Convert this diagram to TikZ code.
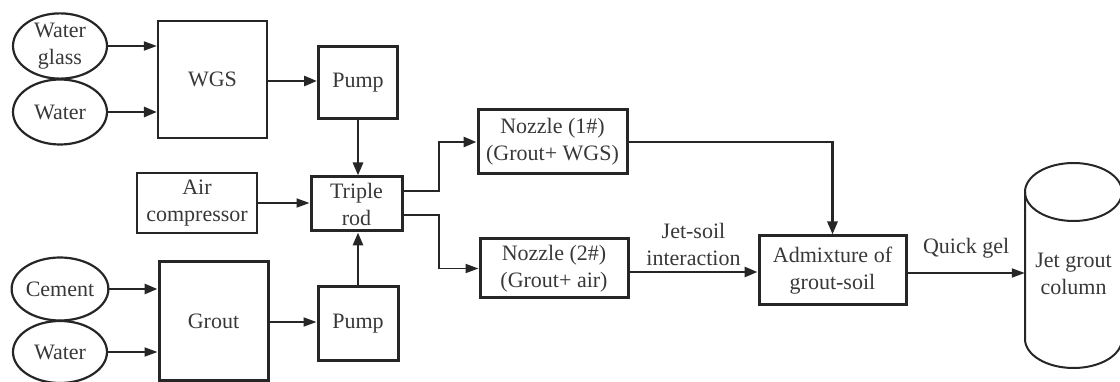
\documentclass[tikz,border=0pt]{standalone}
\usepackage{fontspec}
\setmainfont{Liberation Serif}
\usetikzlibrary{arrows.meta,shapes.geometric}
\begin{document}
\begin{tikzpicture}[x=1pt,y=-1pt,
  every node/.style={font=\fontsize{22}{27}\selectfont, text=black!78, align=center, inner sep=0pt},
  bx/.style={draw=black!85, line width=2.2pt, rectangle},
  bxt/.style={draw=black!85, line width=3pt, rectangle},
  ell/.style={draw=black!85, line width=2.2pt, ellipse},
  tharr/.style={draw=black!85, line width=1.8pt, -{Triangle[length=13pt,width=9pt]}},
  tkarr/.style={draw=black!85, line width=2.8pt, -{Triangle[length=13pt,width=10pt]}}]
\useasboundingbox (0,0) rectangle (1120,382);
% ellipses
\node[ell, minimum width=94, minimum height=63] (wg) at (60,46) {Water\\glass};
\node[ell, minimum width=94, minimum height=65] (w1) at (60,112) {Water};
\node[ell, minimum width=94, minimum height=63] (cem) at (60,289) {Cement};
\node[ell, minimum width=94, minimum height=62] (w2) at (60,352) {Water};
% boxes
\node[bx, minimum width=109, minimum height=117] (wgs) at (212.5,79.5) {WGS};
\node[bxt, minimum width=79, minimum height=72] (p1) at (358,83) {Pump};
\node[bxt, minimum width=91, minimum height=54] (tr) at (356.5,204) {Triple\\rod};
\node[bx, minimum width=120, minimum height=60] (air) at (197,203) {Air\\compressor};
\node[bxt, minimum width=109, minimum height=118] (gr) at (213.5,321) {Grout};
\node[bxt, minimum width=80, minimum height=73] (p2) at (358,323.5) {Pump};
\node[bxt, minimum width=149, minimum height=64] (n1) at (552.5,142) {Nozzle (1\#)\\(Grout+ WGS)};
\node[bxt, minimum width=148, minimum height=59] (n2) at (554,268.5) {Nozzle (2\#)\\(Grout+ air)};
\node[bxt, minimum width=147, minimum height=69] (ad) at (832.5,270.5) {Admixture of\\grout-soil};
% cylinder
\draw[black!85, line width=2pt] (1025,192) -- (1025,339) arc[start angle=180, end angle=0, x radius=48.5, y radius=29] -- (1122,192);
\draw[black!85, line width=2pt] (1073.5,192) ellipse[x radius=48.5, y radius=29];
\node[minimum width=97, minimum height=147] (col) at (1073.5,274) {Jet grout\\column};
% connectors
\draw[tharr] (wg.east) -- (wg.east -| wgs.west);
\draw[tkarr] (w1.east) -- (w1.east -| wgs.west);
\draw[tkarr] (cem.east) -- (cem.east -| gr.west);
\draw[tharr] (w2.east) -- (w2.east -| gr.west);
\draw[tkarr] (wgs.east |- 0,81) -- (p1.west |- 0,81);
\draw[tkarr] (p1.south) -- (tr.north -| p1.south);
\draw[tharr] (air.east) -- (tr.west |- air.east);
\draw[tharr] (gr.east |- 0,322) -- (p2.west |- 0,322);
\draw[tkarr] (p2.north) -- (tr.south -| p2.north);
\coordinate (s1) at (439,191);
\coordinate (s2) at (439,215);
\draw[tkarr] (tr.east |- s1) -- (s1) |- (n1.west);
\draw[tharr] (tr.east |- s2) -- (s2) |- (n2.west);
\draw[tkarr] (n1.east) -| (ad.north);
\draw[tkarr] (n2.east |- 0,272) -- node[above=5pt] {Jet-soil\\interaction} (ad.west |- 0,272);
\draw[tharr] (ad.east |- 0,273) -- node[above=14pt] {Quick gel} (col.west |- 0,273);
\end{tikzpicture}
\end{document}
